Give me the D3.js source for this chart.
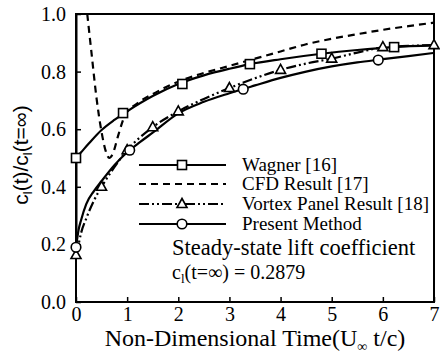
<!DOCTYPE html>
<html lang="en">
<head>
<meta charset="UTF-8">
<title>Lift ratio</title>
<script src="https://d3js.org/d3.v7.min.js"></script>
<style>
  body { margin: 0; background: #fff; }
  text { font-family: "Liberation Serif", "Times New Roman", "DejaVu Serif", serif; fill: #000; }
  .ytitle { font-family: "Liberation Sans", Arial, sans-serif; }
</style>
</head>
<body>
<div id="chart"></div>
<script>
// values
const xTicks = [0, 1, 2, 3, 4, 5, 6, 7];
const yTicks = [0, 0.2, 0.4, 0.6, 0.8, 1.0];

const wagner = [[0,0.50],[0.1,0.52],[0.25,0.55],[0.5,0.597],[0.75,0.632],[1,0.662],[1.5,0.715],[2,0.757],
  [2.5,0.787],[3,0.81],[3.4,0.826],[4,0.843],[4.8,0.862],[5.5,0.875],[6.2,0.885],[7,0.891]];
const wagnerMarks = [[0,0.50],[0.92,0.656],[2.08,0.757],[3.4,0.826],[4.8,0.862],[6.22,0.885]];

const cfd = [[0.22,1.0],[0.3,0.87],[0.4,0.71],[0.5,0.59],[0.58,0.525],[0.65,0.50],[0.72,0.515],
  [0.82,0.575],[0.95,0.645],[1.2,0.69],[1.5,0.722],[2,0.765],[2.5,0.795],[3,0.82],[3.5,0.845],
  [4,0.87],[4.5,0.895],[5,0.914],[5.5,0.93],[6,0.945],[6.5,0.958],[7,0.97]];

const vortex = [[0,0.163],[0.05,0.2],[0.1,0.24],[0.2,0.29],[0.35,0.352],[0.5,0.40],[0.75,0.468],
  [1,0.527],[1.5,0.607],[2,0.662],[2.5,0.705],[3,0.743],[3.5,0.777],[4,0.806],[4.5,0.828],
  [5,0.845],[5.5,0.866],[6,0.884],[6.5,0.889],[7,0.892]];
const vortexMarks = [[0,0.163],[0.5,0.40],[1,0.527],[1.5,0.607],[2,0.662],[3,0.743],[4,0.806],
  [5,0.845],[6,0.885],[7,0.892]];

const present = [[0,1.0],[0,0.19],[0.05,0.25],[0.1,0.285],[0.2,0.34],[0.35,0.385],[0.5,0.42],
  [0.75,0.475],[1,0.52],[1.25,0.555],[1.5,0.588],[2,0.655],[2.5,0.695],[3,0.725],[3.5,0.752],
  [4,0.778],[4.5,0.80],[5,0.818],[5.5,0.832],[6,0.843],[6.5,0.854],[7,0.865]];
const presentMarks = [[0,0.19],[1.05,0.527],[3.27,0.739],[5.91,0.84]];

const legendNames = ["Wagner [16]", "CFD Result [17]", "Vortex Panel Result [18]", "Present Method"];

const W = 440, H = 355;
const svg = d3.select("#chart").append("svg").attr("width", W).attr("height", H);

const x = d3.scaleLinear().domain([0, 7]).range([76, 434]);
const y = d3.scaleLinear().domain([0, 1]).range([302, 14]);

svg.append("clipPath").attr("id", "clip")
  .append("rect").attr("x", 76).attr("y", 14).attr("width", 358).attr("height", 288);

// axes, ticks pointing inward
svg.append("g").attr("transform", "translate(0,302)")
  .call(d3.axisBottom(x).tickValues(xTicks).tickSize(-5).tickPadding(5).tickFormat(d3.format("d")))
  .call(g => g.select(".domain").remove())
  .call(g => g.selectAll("line").attr("stroke-width", 1.5))
  .call(g => g.selectAll("text").attr("font-size", 20).attr("font-family", null));

svg.append("g").attr("transform", "translate(76,0)")
  .call(d3.axisLeft(y).tickValues(yTicks).tickSize(-5).tickPadding(10).tickFormat(d3.format(".1f")))
  .call(g => g.select(".domain").remove())
  .call(g => g.selectAll("line").attr("stroke-width", 1.5))
  .call(g => g.selectAll("text").attr("font-size", 20).attr("font-family", null));

svg.append("rect").attr("x", 76).attr("y", 14).attr("width", 358).attr("height", 288)
  .attr("fill", "none").attr("stroke", "#000").attr("stroke-width", 2);

const line = d3.line().x(d => x(d[0])).y(d => y(d[1])).curve(d3.curveMonotoneX);
const lineLin = d3.line().x(d => x(d[0])).y(d => y(d[1]));

const plot = svg.append("g").attr("clip-path", "url(#clip)");

const dashCFD = "7,5";
const dashVortex = "10,3,2,3,2,3";

plot.append("path").attr("d", line(cfd)).attr("fill", "none").attr("stroke", "#000")
  .attr("stroke-width", 2.2).attr("stroke-dasharray", dashCFD);
plot.append("path").attr("d", line(vortex)).attr("fill", "none").attr("stroke", "#000")
  .attr("stroke-width", 2.2).attr("stroke-dasharray", dashVortex);
plot.append("path").attr("d", line(wagner)).attr("fill", "none").attr("stroke", "#000")
  .attr("stroke-width", 2.2);
plot.append("path").attr("d", lineLin(present.slice(0, 2))).attr("fill", "none").attr("stroke", "#000")
  .attr("stroke-width", 3);
plot.append("path").attr("d", line(present.slice(1))).attr("fill", "none").attr("stroke", "#000")
  .attr("stroke-width", 2.2);

function square(g, cx, cy) {
  g.append("rect").attr("x", cx - 4.5).attr("y", cy - 4.5).attr("width", 9).attr("height", 9)
    .attr("fill", "#fff").attr("stroke", "#000").attr("stroke-width", 1.6);
}
function triangle(g, cx, cy) {
  g.append("path").attr("d", `M${cx},${cy - 5.5}L${cx + 5},${cy + 3.5}L${cx - 5},${cy + 3.5}Z`)
    .attr("fill", "#fff").attr("stroke", "#000").attr("stroke-width", 1.6);
}
function circle(g, cx, cy) {
  g.append("circle").attr("cx", cx).attr("cy", cy).attr("r", 4.8)
    .attr("fill", "#fff").attr("stroke", "#000").attr("stroke-width", 1.6);
}

const marks = svg.append("g");
wagnerMarks.forEach(d => square(marks, x(d[0]), y(d[1])));
vortexMarks.forEach(d => triangle(marks, x(d[0]), y(d[1])));
presentMarks.forEach(d => circle(marks, x(d[0]), y(d[1])));

// legend
const legRows = [165, 184, 204, 224];
const legDash = [null, dashCFD, dashVortex, null];
const legMark = [square, null, triangle, circle];
const leg = svg.append("g");
legendNames.forEach((name, i) => {
  leg.append("line").attr("x1", 139).attr("x2", 226).attr("y1", legRows[i]).attr("y2", legRows[i])
    .attr("stroke", "#000").attr("stroke-width", 2.2)
    .attr("stroke-dasharray", legDash[i]);
  if (legMark[i]) legMark[i](leg, 182, legRows[i]);
  leg.append("text").attr("x", 242).attr("y", legRows[i] + 6).attr("font-size", 19).text(name);
});

// annotation
svg.append("text").attr("x", 172).attr("y", 255).attr("font-size", 22.5).text("Steady-state lift coefficient");
const ann = svg.append("text").attr("x", 172).attr("y", 279).attr("font-size", 20);
ann.append("tspan").text("c");
ann.append("tspan").attr("font-size", 13).attr("dy", 4).text("l");
ann.append("tspan").attr("dy", -4).text("(t=\u221E) = 0.2879");

// x title
const xt = svg.append("text").attr("x", 255).attr("y", 346).attr("text-anchor", "middle").attr("font-size", 24);
xt.append("tspan").text("Non-Dimensional Time(U");
xt.append("tspan").attr("font-size", 14).attr("dy", 5).text("\u221E");
xt.append("tspan").attr("dy", -5).text(" t/c)");

// y title
const yt = svg.append("text").attr("class", "ytitle")
  .attr("transform", "translate(28,155) rotate(-90)")
  .attr("text-anchor", "middle").attr("font-size", 21);
yt.append("tspan").text("c");
yt.append("tspan").attr("font-size", 13).attr("dy", 4).text("l");
yt.append("tspan").attr("dy", -4).text("(t)/c");
yt.append("tspan").attr("font-size", 13).attr("dy", 4).text("l");
yt.append("tspan").attr("dy", -4).text("(t=\u221E)");
</script>
</body>
</html>
